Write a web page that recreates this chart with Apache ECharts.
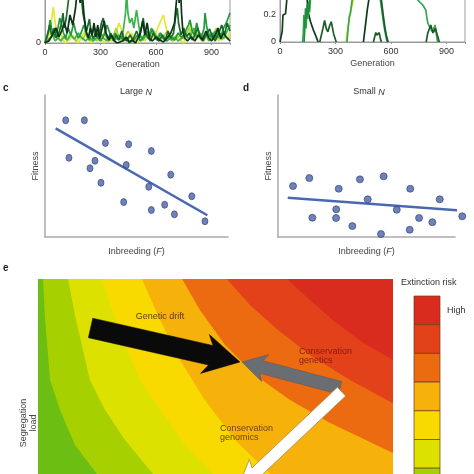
<!DOCTYPE html>
<html><head><meta charset="utf-8">
<script src="https://cdn.jsdelivr.net/npm/echarts@6/dist/echarts.min.js"></script>
<style>html,body{margin:0;padding:0;background:#fff}#c{width:474px;height:474px}</style>
</head><body><div id="c"></div>
<script>
// ---------- Panel a: allele trajectories (large N) ----------
const generationTicks = [0, 300, 600, 900];
const aNames = ['a1','a2','a3','a4','a5','a6'];
const aColors = ['#e4e632','#b2d33c','#3cb44a','#249a40','#1a6a2c','#0d3317'];
const aYellow = [[0,0],[15,0.05],[25,0.1],[35,0.22],[45,0.36],[55,0.2],[65,0.1],[75,0.05],[85,0.12],[95,0.04],[110,0],[130,0.03],[150,0.08],[165,0.02],[180,0],[200,0.06],[215,0.12],[230,0.04],[250,0],[270,0.05],[285,0.1],[300,0.04],[320,0],[340,0.06],[360,0.02],[380,0.08],[400,0.2],[415,0.12],[430,0.05],[450,0.02],[470,0.1],[480,0.04],[500,0],[520,0.06],[540,0.02],[560,0.08],[575,0.12],[590,0.05],[610,0.15],[625,0.22],[640,0.28],[655,0.15],[670,0.05],[690,0.02],[710,0.08],[730,0.03],[750,0],[770,0.1],[785,0.2],[800,0.12],[815,0.05],[830,0.12],[845,0.06],[860,0.02],[880,0.1],[900,0.05],[920,0.08],[940,0.02],[960,0.12],[980,0.05],[1000,0.1]];
const aLime = [[0,0],[12,0.06],[25,0.02],[40,0.1],[50,0.05],[62,0.12],[75,0.04],[90,0.02],[105,0.08],[120,0.03],[135,0.1],[150,0.05],[170,0.02],[190,0.07],[205,0.03],[220,0.1],[235,0.05],[250,0.02],[265,0.06],[280,0.02],[300,0.05],[320,0.1],[335,0.04],[350,0.02],[370,0.08],[385,0.15],[398,0.06],[410,0.02],[430,0.05],[450,0.12],[465,0.06],[480,0.02],[500,0.05],[520,0.02],[540,0.06],[560,0.1],[575,0.05],[590,0.12],[605,0.06],[620,0.02],[640,0.06],[660,0.12],[675,0.06],[690,0.02],[710,0.04],[730,0.08],[750,0.04],[765,0.1],[780,0.15],[790,0.08],[805,0.04],[820,0.1],[835,0.05],[850,0.02],[870,0.06],[890,0.1],[905,0.04],[925,0.15],[940,0.08],[955,0.03],[970,0.08],[985,0.04],[1000,0.06]];
const aGreen = [[0,0],[20,0.03],[40,0.08],[55,0.02],[70,0.05],[85,0.02],[100,0.06],[120,0.03],[140,0.08],[160,0.04],[180,0.1],[200,0.05],[220,0.02],[240,0.06],[260,0.02],[280,0.05],[300,0.1],[320,0.04],[340,0.02],[360,0.06],[380,0.03],[400,0.08],[415,0.04],[425,0.15],[435,0.3],[441,0.5],[448,0.3],[458,0.2],[470,0.25],[480,0.15],[495,0.33],[505,0.2],[515,0.08],[530,0.03],[545,0.08],[560,0.04],[575,0.15],[590,0.08],[605,0.04],[620,0.1],[635,0.05],[650,0.02],[665,0.07],[680,0.03],[700,0.06],[720,0.02],[740,0.05],[760,0.1],[775,0.04],[790,0.08],[805,0.15],[820,0.06],[840,0.1],[855,0.04],[870,0.08],[885,0.02],[900,0.06],[920,0.12],[935,0.05],[950,0.1],[965,0.04],[985,0.12],[1000,0.18]];
const aMid = [[0,0],[10,0.05],[20,0.12],[27,0.23],[35,0.15],[45,0.1],[55,0.06],[70,0.15],[80,0.25],[90,0.18],[100,0.1],[112,0.05],[125,0.15],[140,0.08],[155,0.2],[165,0.12],[180,0.05],[195,0.1],[210,0.18],[225,0.08],[240,0.03],[255,0.1],[270,0.15],[285,0.05],[300,0.02],[320,0.08],[335,0.18],[350,0.1],[365,0.04],[380,0.1],[395,0.03],[410,0.07],[425,0.02],[440,0.05],[455,0],[480,0.03],[500,0.08],[515,0.02],[530,0.06],[550,0.12],[565,0.06],[580,0.14],[595,0.08],[610,0.03],[625,0.1],[640,0.05],[660,0.02],[680,0.06],[700,0.03],[720,0.1],[740,0.05],[760,0.12],[775,0.18],[784,0.23],[795,0.12],[808,0.08],[820,0.2],[832,0.1],[845,0.05],[860,0.15],[865,0.3],[875,0.15],[890,0.06],[905,0.1],[920,0.04],[935,0.12],[950,0.06],[965,0.15],[980,0.2],[1000,0.3]];
const aDark = [[0,0],[15,0.1],[25,0.18],[35,0.08],[50,0.15],[60,0.05],[75,0.1],[90,0.2],[97,0.3],[105,0.15],[115,0.25],[125,0.4],[135,0.55],[145,0.45],[155,0.6],[165,0.5],[175,0.7],[185,0.45],[195,0.5],[205,0.3],[215,0.2],[225,0.12],[240,0.24],[250,0.1],[262,0.04],[275,0.12],[290,0.06],[305,0.2],[315,0.25],[325,0.12],[340,0.04],[355,0.1],[370,0.02],[385,0.08],[400,0.03],[415,0.12],[425,0.05],[440,0.02],[460,0.08],[475,0.03],[495,0.12],[510,0.05],[525,0.18],[531,0.25],[540,0.12],[555,0.06],[570,0.02],[585,0.1],[600,0.04],[615,0.02],[635,0.08],[650,0.03],[665,0.12],[680,0.05],[695,0.1],[705,0.25],[715,0.35],[722,0.2],[735,0.08],[750,0.15],[765,0.06],[780,0.1],[795,0.03],[810,0.08],[825,0.15],[840,0.06],[855,0.02],[870,0.08],[890,0.14],[905,0.06],[920,0.02],[940,0.1],[955,0.18],[970,0.08],[985,0.2],[1000,0.12]];
const aBlack = [[0,0],[20,0.02],[40,0.08],[60,0.15],[75,0.06],[90,0.12],[105,0.2],[120,0.1],[135,0.28],[150,0.18],[165,0.35],[178,0.6],[190,0.4],[200,0.55],[210,0.3],[222,0.12],[235,0.05],[245,0.15],[255,0.08],[265,0.2],[275,0.06],[285,0.18],[295,0.04],[305,0.12],[320,0.22],[330,0.1],[345,0.03],[360,0.08],[375,0.02],[390,0],[420,0.02],[440,0.06],[455,0.01],[470,0.03],[490,0],[515,0.1],[528,0.22],[540,0.08],[552,0.2],[565,0.05],[580,0.02],[600,0.06],[620,0.03],[640,0.01],[660,0.05],[680,0.1],[700,0.2],[712,0.45],[718,0.7],[725,0.4],[730,0.65],[738,0.3],[745,0.12],[755,0.05],[770,0.02],[790,0.06],[810,0.02],[830,0.08],[850,0.03],[870,0.12],[885,0.05],[900,0.02],[920,0.08],[935,0.15],[950,0.04],[965,0.1],[980,0.06],[1000,0.02]];
const aSeries = [aYellow, aLime, aGreen, aMid, aDark, aBlack];

// ---------- Panel b: allele trajectories (small N) ----------
const bColors = ['#123d1b','#2ea84a','#1f8c3c','#1c5e2a','#d4de22','#3aa64c','#0f3a18','#1e5a28','#2a9a44','#1a5a28','#3aa850','#1c5a2a'];
const b1 = [[0,0],[8,0.01],[12,0.08],[16,0.2],[24,0.2],[30,0.21],[36,0.3],[44,0.45],[60,0.6],[100,0.7],[130,0.55],[145,0.35],[152,0.22],[165,0.15],[180,0.09],[195,0.04],[206,0]];
const b2 = [[122,0],[126,0.06],[129,0.2],[133,0.12],[137,0.18],[141,0.1],[146,0.24],[150,0.17],[155,0.3],[160,0.22],[166,0.35],[175,0.5]];
const b3 = [[130,0],[134,0.1],[138,0.25],[142,0.17],[147,0.28],[152,0.2],[158,0.26],[164,0.4],[172,0.55]];
const b4 = [[215,0],[224,0.01],[232,0.1],[241,0.16],[250,0.1],[259,0.075],[268,0.12],[277,0.15],[290,0.06],[304,0]];
const b5 = [[357,0],[362,0.06],[370,0.13],[378,0.2],[386,0.25],[394,0.3],[402,0.36],[412,0.5]];
const b6 = [[362,0],[368,0.1],[375,0.19],[380,0.21],[386,0.27],[394,0.36],[402,0.5]];
const b7 = [[451,0],[458,0.08],[465,0.16],[472,0.24],[481,0.32],[492,0.5]];
const b8 = [[505,0],[512,0.04],[518,0.07],[524,0.05],[530,0.04],[536,0.07],[542,0.03],[548,0]];
const b9 = [[528,0.5],[543,0.31],[552,0.22],[562,0.12],[570,0.06],[579,0]];
const b10 = [[533,0.5],[548,0.31],[558,0.2],[568,0.1],[576,0.04],[585,0]];
const b11 = [[700,0.6],[745,0.31],[760,0.29],[772,0.274],[780,0.26],[788,0.237],[795,0.17],[799,0.141],[808,0.113],[815,0.126],[825,0.076],[838,0.126],[852,0]];
const b12 = [[790,0],[799,0.067],[815,0.126],[827,0.067],[840,0.1],[861,0]];
const bSeries = [b1,b2,b3,b4,b5,b6,b7,b8,b9,b10,b11,b12];

// ---------- Panels c, d: fitness vs inbreeding ----------
const largeN = [[0.113,0.822],[0.215,0.822],[0.131,0.558],[0.330,0.662],[0.457,0.653],[0.581,0.606],[0.273,0.537],[0.246,0.484],[0.444,0.507],[0.306,0.382],[0.687,0.439],[0.567,0.354],[0.802,0.287],[0.430,0.246],[0.654,0.227],[0.581,0.190],[0.707,0.160],[0.874,0.111]];
const largeNFit = [[0.058,0.765],[0.887,0.153]];
const smallN = [[0.085,0.359],[0.177,0.415],[0.343,0.340],[0.463,0.406],[0.597,0.427],[0.747,0.340],[0.507,0.265],[0.914,0.265],[0.329,0.195],[0.671,0.192],[0.194,0.136],[0.328,0.134],[0.797,0.134],[0.872,0.104],[1.041,0.146],[0.420,0.077],[0.744,0.051],[0.582,0.021]];
const smallNFit = [[0.055,0.277],[1.045,0.185]];

// ---------- Panel e: extinction-risk landscape ----------
const riskColors = ['#6dbe12','#a6d000','#dde100','#f8d900','#f7b10b','#ec6b10','#e2411a','#d92c1f'];
const riskB1 = [[1.4,100],[2.0,85.8],[3.4,64.9],[6.2,54.5],[10.4,42.4],[16.6,32.3],[24,20],[34,8],[42,0]];
const riskB2 = [[8.5,100],[10.4,87.5],[12.7,75.3],[14.6,64.9],[18.9,54.5],[24.5,44.1],[32.4,32.3],[42,20],[55,6],[62,0]];
const riskB3 = [[18.0,100],[20.8,89.2],[24.5,77.1],[28.7,64.9],[34.4,54.5],[41.4,42.4],[49.3,32.3],[60,20],[72,8],[80,0]];
const riskB4 = [[29.3,100],[34.4,85.8],[40.0,71.9],[47.0,58.0],[55.5,44.1],[65.4,32.3],[79,18],[100,5]];
const riskB5 = [[40.6,100],[45.6,89.2],[52.7,77.1],[61.1,66.7],[71.0,58.0],[82.3,50.0],[100,39.6]];
const riskB6 = [[53.2,100],[59.7,91.0],[67.6,82.3],[76.6,73.6],[87.9,64.9],[100,56.9]];
const riskB7 = [[70.1,100],[76.6,92.7],[83.7,85.1],[91.3,78.1],[100,71.9]];
const riskBoundaries = [riskB1, riskB2, riskB3, riskB4, riskB5, riskB6, riskB7];
const arrowPaths = [[14.8,83.0,56.9,71.2],[85.1,62.2,57.5,71.2],[85.5,60.9,56.1,26.7]]; // drift, genetics, genomics
const legendColors = riskColors.slice().reverse();

// ---------- styles ----------
const arrowStyles = [
  {w:20, hw:40, hl:30, sweep:6, fill:'#0a0a0a', stroke:'#0a0a0a', lw:0.5},
  {w:13, hw:28, hl:20, sweep:4, fill:'#6a6d71', stroke:'#55585c', lw:0.5},
  {w:12, hw:28, hl:26, sweep:4, fill:'#ffffff', stroke:'#b08a4a', lw:0.8}
];
const FONT = 'Liberation Sans, Arial, sans-serif';
const gray = '#9a9a9a';
const txt = '#333';

const chart = echarts.init(document.getElementById('c'), null, {renderer:'canvas'});

function genXAxis(gi){
  return {gridIndex:gi, type:'value', min:0, max:1000, interval:300,
    name:'Generation', nameLocation:'middle', nameGap:17,
    nameTextStyle:{fontSize:9, color:'#444', fontFamily:FONT},
    axisLine:{lineStyle:{color:gray}}, axisTick:{show:true, length:2, lineStyle:{color:gray}},
    axisLabel:{fontSize:9, color:txt, fontFamily:FONT, margin:5, formatter:v=> (v===1000?'':String(v))},
    splitLine:{show:false}};
}
function plainAxis(gi, dir, extra){
  return Object.assign({gridIndex:gi, type:'value', min:0, max:1,
    axisLine:{show:true, lineStyle:{color:'#aaaaaa', width:1.5}}, axisTick:{show:false}, axisLabel:{show:false}, splitLine:{show:false}}, extra||{});
}

const series = [];
aSeries.forEach((d,i)=>series.push({type:'line', xAxisIndex:0, yAxisIndex:0, data:d, showSymbol:false, silent:true,
  lineStyle:{color:aColors[i], width:1.7}, z:2+i}));
bSeries.forEach((d,i)=>series.push({type:'line', xAxisIndex:1, yAxisIndex:1, data:d, showSymbol:false, silent:true,
  lineStyle:{color:bColors[i], width:1.7}}));
series.push({type:'line', xAxisIndex:2, yAxisIndex:2, data:largeNFit, showSymbol:false, lineStyle:{color:'#4a68b2', width:2.5}, clip:false, z:3});
series.push({type:'scatter', xAxisIndex:2, yAxisIndex:2, data:largeN, symbolSize:[6,7], itemStyle:{color:'#4b62a6', borderColor:'#2c3f7a', borderWidth:0.8}, clip:false, z:4});
series.push({type:'line', xAxisIndex:3, yAxisIndex:3, data:smallNFit, showSymbol:false, lineStyle:{color:'#4a68b2', width:2.5}, clip:false, z:3});
series.push({type:'scatter', xAxisIndex:3, yAxisIndex:3, data:smallN, symbolSize:7, itemStyle:{color:'#4b62a6', borderColor:'#2c3f7a', borderWidth:0.8}, clip:false, z:4});

// risk bands
series.push({type:'custom', xAxisIndex:4, yAxisIndex:4, silent:true, z:1,
  data: riskColors.map((c,i)=>[i,i]),
  renderItem:(params, api)=>{
    const i = params.dataIndex;
    let pts;
    if (i === 0) pts = [[0,0],[0,100],[100,100],[100,0]];
    else {
      pts = riskBoundaries[i-1].slice();
      const last = pts[pts.length-1];
      if (last[0] < 100) pts.push([100,0]);
      pts.push([100,100]);
    }
    return {type:'polygon', shape:{points: pts.map(p=>api.coord(p))}, style:{fill: riskColors[i]}};
  }});
// arrows
series.push({type:'custom', xAxisIndex:4, yAxisIndex:4, silent:true, z:5,
  data: arrowPaths,
  renderItem:(params, api)=>{
    const a = arrowPaths[params.dataIndex], s = arrowStyles[params.dataIndex];
    const p0 = api.coord([a[0],a[1]]), p1 = api.coord([a[2],a[3]]);
    const dx=p1[0]-p0[0], dy=p1[1]-p0[1], L=Math.hypot(dx,dy), ux=dx/L, uy=dy/L, nx=-uy, ny=ux;
    const bx=p1[0]-ux*s.hl, by=p1[1]-uy*s.hl, sx=bx-ux*s.sweep, sy=by-uy*s.sweep;
    const pts=[[p0[0]+nx*s.w/2,p0[1]+ny*s.w/2],[bx+nx*s.w/2,by+ny*s.w/2],[sx+nx*s.hw/2,sy+ny*s.hw/2],[p1[0],p1[1]],
               [sx-nx*s.hw/2,sy-ny*s.hw/2],[bx-nx*s.w/2,by-ny*s.w/2],[p0[0]-nx*s.w/2,p0[1]-ny*s.w/2]];
    return {type:'polygon', shape:{points:pts}, style:{fill:s.fill, stroke:s.stroke, lineWidth:s.lw}};
  }});

// graphic: labels, titles, annotations, legend
const graphic = [];
function T(x,y,text,opt){ graphic.push({type:'text', x:x, y:y, z:100, style:Object.assign({text:text, fontSize:9, fill:txt, fontFamily:FONT, align:'left', verticalAlign:'middle'}, opt||{})}); }
T(3,88,'c',{fontWeight:'bold', fontSize:10, fill:'#222'});
T(243,88,'d',{fontWeight:'bold', fontSize:10, fill:'#222'});
T(3,268,'e',{fontWeight:'bold', fontSize:10, fill:'#222'});
T(136,92,'{r|Large }{i|N}',{align:'center', rich:{r:{fontSize:9, fill:txt, fontFamily:FONT}, i:{fontSize:9, fill:txt, fontStyle:'italic', fontFamily:FONT}}});
T(369,92,'{r|Small }{i|N}',{align:'center', rich:{r:{fontSize:9, fill:txt, fontFamily:FONT}, i:{fontSize:9, fill:txt, fontStyle:'italic', fontFamily:FONT}}});
T(160,317,'Genetic drift',{align:'center', fill:'#5b3b0b'});
T(299,352,'Conservation',{fill:'#8a1b0e'});
T(299,361,'genetics',{fill:'#8a1b0e'});
T(220,429,'Conservation',{fill:'#6b4a0a'});
T(220,438,'genomics',{fill:'#6b4a0a'});
T(401,283,'Extinction risk',{fill:'#333'});
T(447,311,'High',{fill:'#333'});
legendColors.forEach((c,i)=>graphic.push({type:'rect', z:100, shape:{x:414, y:296+i*28.7, width:26, height:28.7},
  style:{fill:c, stroke:'#6a3a1a', lineWidth:0.7}}));

const G = {outerBoundsMode:'none', containLabel:false};
const option = {
  animation:false,
  backgroundColor:'#fff',
  textStyle:{fontFamily:FONT},
  grid:[
    Object.assign({left:45, top:-57, width:185, height:100, show:true, borderColor:gray, borderWidth:1, backgroundColor:'transparent'}, G),
    Object.assign({left:280, top:-93, width:185, height:135, show:true, borderColor:gray, borderWidth:1, backgroundColor:'transparent'}, G),
    Object.assign({left:45, top:95, width:183, height:142}, G),
    Object.assign({left:278, top:95, width:177, height:142}, G),
    Object.assign({left:38, top:279, width:355, height:288}, G)
  ],
  xAxis:[
    genXAxis(0), genXAxis(1),
    plainAxis(2,'x',{name:'Inbreeding ({i|F})', nameLocation:'middle', nameGap:10, nameTextStyle:{fontSize:9, color:'#444', fontFamily:FONT, rich:{i:{fontStyle:'italic', fontSize:9, color:'#444', fontFamily:FONT}}}}),
    plainAxis(3,'x',{name:'Inbreeding ({i|F})', nameLocation:'middle', nameGap:10, nameTextStyle:{fontSize:9, color:'#444', fontFamily:FONT, rich:{i:{fontStyle:'italic', fontSize:9, color:'#444', fontFamily:FONT}}}}),
    {gridIndex:4, type:'value', min:0, max:100, show:false}
  ],
  yAxis:[
    {gridIndex:0, type:'value', min:0, max:1, interval:0.5, axisLine:{show:true, lineStyle:{color:gray}}, axisTick:{show:false},
      axisLabel:{fontSize:9, color:txt, fontFamily:FONT, margin:4}, splitLine:{show:false}},
    {gridIndex:1, type:'value', min:0, max:1, interval:0.2, axisLine:{show:true, lineStyle:{color:gray}}, axisTick:{show:false},
      axisLabel:{fontSize:9, color:txt, fontFamily:FONT, margin:4}, splitLine:{show:false}},
    plainAxis(2,'y',{name:'Fitness', nameLocation:'middle', nameGap:5, nameRotate:90, nameTextStyle:{fontSize:9, color:'#444', fontFamily:FONT}}),
    plainAxis(3,'y',{name:'Fitness', nameLocation:'middle', nameGap:5, nameRotate:90, nameTextStyle:{fontSize:9, color:'#444', fontFamily:FONT}}),
    {gridIndex:4, type:'value', min:0, max:100, axisLine:{show:false}, axisTick:{show:false}, axisLabel:{show:false}, splitLine:{show:false},
      name:'Segregation\nload', nameLocation:'middle', nameGap:-1, nameRotate:90, nameTextStyle:{fontSize:9, color:'#444', fontFamily:FONT, lineHeight:10}}
  ],
  series: series,
  graphic: graphic
};
chart.setOption(option);
</script></body></html>
